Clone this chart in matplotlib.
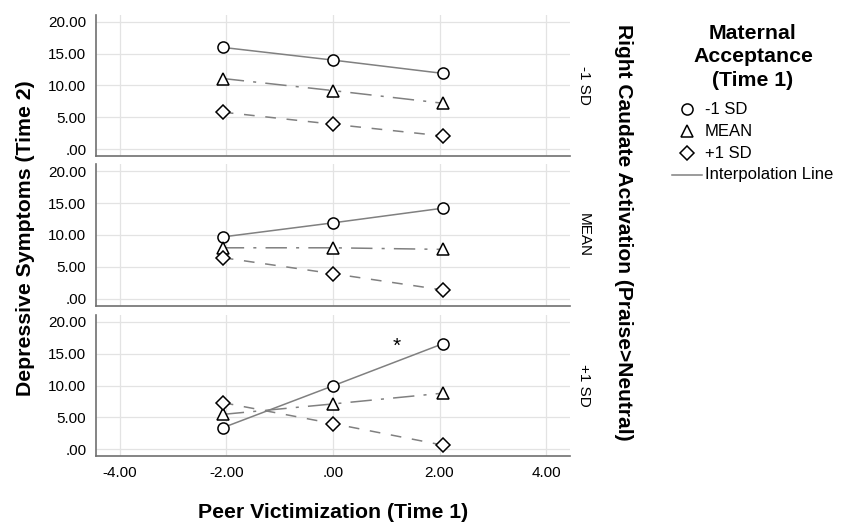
import matplotlib
matplotlib.use("Agg")
import matplotlib.pyplot as plt
from matplotlib.ticker import FuncFormatter

plt.rcParams['font.family'] = ['Liberation Sans', 'DejaVu Sans']

# peer victimization levels (x)
victimization = [-2.07, 0.0, 2.07]

# panel labels (right caudate activation)
panels = ["-1 SD", "MEAN", "+1 SD"]

# depressive symptoms by maternal acceptance, one list per panel
low_accept = [[16.0, 14.0, 11.9], [9.7, 11.9, 14.2], [3.35, 9.95, 16.6]]
mean_accept = [[11.1, 9.2, 7.2], [8.0, 8.0, 7.75], [5.45, 7.1, 8.8]]
high_accept = [[5.8, 3.9, 2.05], [6.45, 3.95, 1.4], [7.3, 4.0, 0.6]]

series_labels = ["-1 SD", "MEAN", "+1 SD"]
x_ticks = [-4, -2, 0, 2, 4]
y_ticks = [0, 5, 10, 15, 20]

# significant slope marker
star_x, star_y = 1.19, 16.1


def spss_fmt(v, pos):
    s = f"{v:.2f}"
    if s.startswith("0."):
        s = s[1:]
    return s


fig = plt.figure(figsize=(8.5, 5.31), dpi=100)
W, H = 850, 531
left, right = 96, 570
tops = [15, 164, 315]
bottoms = [156, 306, 456]

line_col = "#808080"
styles = [
    dict(marker="o", linestyle="-", markersize=8),
    dict(marker="^", linestyle=(0, (14, 6, 2, 6)), markersize=8.5),
    dict(marker="D", linestyle=(0, (7, 7)), markersize=7),
]

axes = []
for i, name in enumerate(panels):
    ax = fig.add_axes([left / W, 1 - bottoms[i] / H, (right - left) / W,
                       (bottoms[i] - tops[i]) / H])
    axes.append(ax)
    for vals, st in zip([low_accept[i], mean_accept[i], high_accept[i]], styles):
        kw = dict(color=line_col, lw=1.1, markerfacecolor="white",
                  markeredgecolor="black", markeredgewidth=1.1)
        kw.update(st)
        ax.plot(victimization, vals, **kw)
    ax.set_xlim(-4.45, 4.45)
    ax.set_ylim(-1.1, 21.1)
    ax.set_xticks(x_ticks)
    ax.set_yticks(y_ticks)
    ax.yaxis.set_major_formatter(FuncFormatter(spss_fmt))
    ax.xaxis.set_major_formatter(FuncFormatter(spss_fmt))
    ax.grid(True, color="#e3e3e3", lw=0.9)
    ax.set_axisbelow(True)
    for s in ["top", "right"]:
        ax.spines[s].set_visible(False)
    for s in ["left", "bottom"]:
        ax.spines[s].set_color("#707070")
        ax.spines[s].set_linewidth(1.2)
    ax.tick_params(length=0, labelsize=11, pad=7)
    if i < 2:
        ax.tick_params(labelbottom=False)
    ax.text(1.03, 0.5, name, transform=ax.transAxes, rotation=270,
            ha="center", va="center", fontsize=11)

axes[2].text(star_x, star_y, "*", ha="center", va="center", fontsize=15)

# axis titles
fig.text(333 / W, 1 - 512 / H, "Peer Victimization (Time 1)", ha="center",
         va="center", fontsize=15.3, fontweight="bold")
fig.text(26 / W, 1 - 238 / H, "Depressive Symptoms (Time 2)", ha="center",
         va="center", rotation=90, fontsize=15.3, fontweight="bold")
fig.text(624 / W, 1 - 232 / H, "Right Caudate Activation (Praise>Neutral)",
         ha="center", va="center", rotation=270, fontsize=15.1, fontweight="bold")

# legend, drawn by hand in pixel space to keep SPSS spacing
lax = fig.add_axes([0, 0, 1, 1])
lax.set_xlim(0, W)
lax.set_ylim(H, 0)
lax.axis("off")
lax.text(753, 57, "Maternal\nAcceptance\n(Time 1)", ha="center", va="center",
         fontsize=15.3, fontweight="bold", linespacing=1.3)
row_y = [109, 131, 153]
for yy, st, lab in zip(row_y, styles, series_labels):
    lax.plot([687], [yy], linestyle="none", marker=st["marker"],
             markersize=st["markersize"], markerfacecolor="white",
             markeredgecolor="black", markeredgewidth=1.1)
    lax.text(705, yy, lab, ha="left", va="center", fontsize=12)
lax.plot([672, 702], [175, 175], color=line_col, lw=1.1)
lax.text(705, 175, "Interpolation Line", ha="left", va="center", fontsize=12)

fig.savefig("out.png", dpi=100)
